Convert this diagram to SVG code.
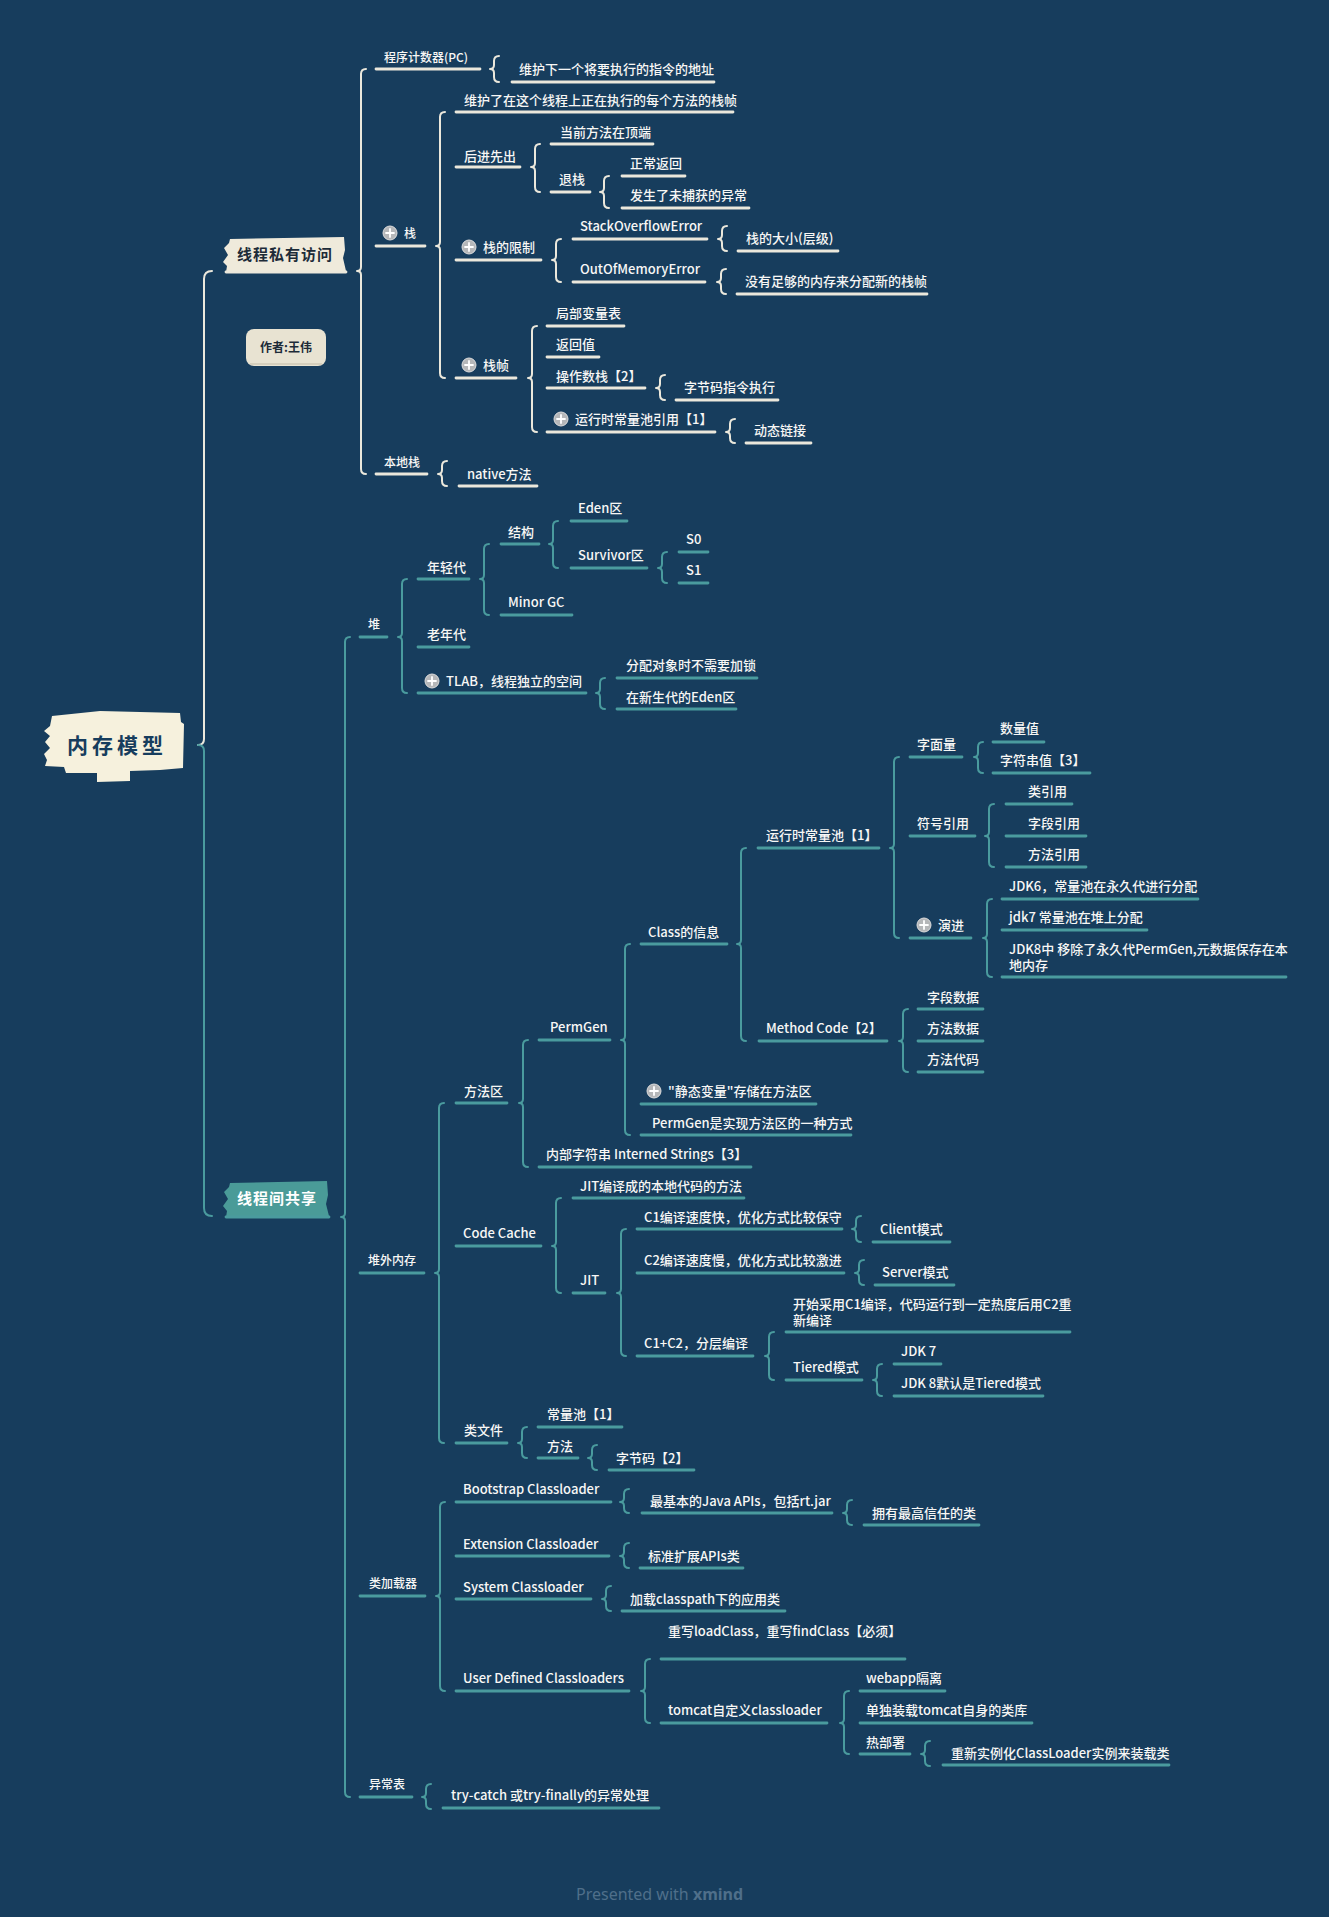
<svg xmlns="http://www.w3.org/2000/svg" xmlns:xlink="http://www.w3.org/1999/xlink" width="1329" height="1917" viewBox="0 0 1329 1917">
<style>
.t{font-family:"Noto Sans CJK SC","Noto Sans",sans-serif;font-size:13px;font-weight:500;fill:#f7f7f5}
.s{font-size:12px}
.uw{stroke:#ebe8dc;stroke-width:2.8;stroke-linecap:round;fill:none}
.ut{stroke:#4a9b9e;stroke-width:2.8;stroke-linecap:round;fill:none}
.bw{stroke:#ebe8dc;stroke-width:2;fill:none;stroke-linecap:round;stroke-linejoin:round}
.bt{stroke:#4a9b9e;stroke-width:2;fill:none;stroke-linecap:round;stroke-linejoin:round}
.big{font-family:"Noto Sans CJK SC","Noto Sans",sans-serif;font-weight:bold}
</style>
<defs>
<g id="plus"><circle r="7" fill="#b5b7b9" stroke="#dcdcdc" stroke-width="1"/><path d="M-4 0H4M0 -4V4" stroke="#fff" stroke-width="1.8" stroke-linecap="round"/></g>
</defs>
<rect width="1329" height="1917" fill="#173d5d"/>

<g id="connectors">
<path class="bw" d="M212 271Q204 271 204 279V739Q204 745 198 745"/>
<path class="bt" d="M198 745Q204 745 204 751V1208Q204 1216 212 1216"/>
<path class="bw" d="M366 69Q361 69 361 74V267Q361 271 357 271Q361 271 361 275V469Q361 474 366 474"/>
<path class="bw" d="M499 56Q494 56 494 61V65Q494 69 490 69Q494 69 494 73V77Q494 82 499 82"/>
<path class="bw" d="M445 112Q440 112 440 117V242Q440 246 436 246Q440 246 440 250V373Q440 378 445 378"/>
<path class="bw" d="M540 144Q535 144 535 149V163Q535 167 531 167Q535 167 535 171V187Q535 192 540 192"/>
<path class="bw" d="M609 176Q604 176 604 181V188Q604 192 600 192Q604 192 604 196V203Q604 208 609 208"/>
<path class="bw" d="M561 239Q556 239 556 244V256Q556 260 552 260Q556 260 556 264V277Q556 282 561 282"/>
<path class="bw" d="M727 226Q722 226 722 231V235Q722 239 718 239Q722 239 722 243V246Q722 251 727 251"/>
<path class="bw" d="M726 269Q721 269 721 274V278Q721 282 717 282Q721 282 721 286V289Q721 294 726 294"/>
<path class="bw" d="M537 326Q532 326 532 331V374Q532 378 528 378Q532 378 532 382V427Q532 432 537 432"/>
<path class="bw" d="M665 375Q660 375 660 380V384Q660 388 656 388Q660 388 660 392V395Q660 400 665 400"/>
<path class="bw" d="M735 419Q730 419 730 424V428Q730 432 726 432Q730 432 730 436V438Q730 443 735 443"/>
<path class="bw" d="M447 461Q442 461 442 466V470Q442 474 438 474Q442 474 442 478V481Q442 486 447 486"/>

<path class="bt" d="M350 637Q345 637 345 642V1213Q345 1217 341 1217Q345 1217 345 1221V1792Q345 1797 350 1797"/>
<path class="bt" d="M407 579Q402 579 402 584V633Q402 637 398 637Q402 637 402 641V688Q402 693 407 693"/>
<path class="bt" d="M489 544Q484 544 484 549V575Q484 579 480 579Q484 579 484 583V610Q484 615 489 615"/>
<path class="bt" d="M558 521Q553 521 553 526V540Q553 544 549 544Q553 544 553 548V563Q553 568 558 568"/>
<path class="bt" d="M667 552Q662 552 662 557V564Q662 568 658 568Q662 568 662 572V578Q662 583 667 583"/>
<path class="bt" d="M605 678Q600 678 600 683V689Q600 693 596 693Q600 693 600 697V704Q600 709 605 709"/>
<path class="bt" d="M444 1103Q439 1103 439 1108V1269Q439 1273 435 1273Q439 1273 439 1277V1438Q439 1443 444 1443"/>
<path class="bt" d="M528 1040Q523 1040 523 1045V1099Q523 1103 519 1103Q523 1103 523 1107V1162Q523 1167 528 1167"/>
<path class="bt" d="M630 944Q625 944 625 949V1036Q625 1040 621 1040Q625 1040 625 1044V1130Q625 1135 630 1135"/>
<path class="bt" d="M746 848Q741 848 741 853V940Q741 944 737 944Q741 944 741 948V1036Q741 1041 746 1041"/>
<path class="bt" d="M899 757Q894 757 894 762V844Q894 848 890 848Q894 848 894 852V933Q894 938 899 938"/>
<path class="bt" d="M983 742Q978 742 978 747V753Q978 757 974 757Q978 757 978 761V768Q978 773 983 773"/>
<path class="bt" d="M994 804Q989 804 989 809V832Q989 836 985 836Q989 836 989 840V862Q989 867 994 867"/>
<path class="bt" d="M992 899Q987 899 987 904V934Q987 938 983 938Q987 938 987 942V972Q987 977 992 977"/>
<path class="bt" d="M908 1009Q903 1009 903 1014V1037Q903 1041 899 1041Q903 1041 903 1045V1067Q903 1072 908 1072"/>
<path class="bt" d="M561 1198Q556 1198 556 1203V1242Q556 1246 552 1246Q556 1246 556 1250V1288Q556 1293 561 1293"/>
<path class="bt" d="M626 1229Q621 1229 621 1234V1289Q621 1293 617 1293Q621 1293 621 1297V1351Q621 1356 626 1356"/>
<path class="bt" d="M861 1216Q856 1216 856 1221V1225Q856 1229 852 1229Q856 1229 856 1233V1237Q856 1242 861 1242"/>
<path class="bt" d="M864 1260Q859 1260 859 1265V1269Q859 1273 855 1273Q859 1273 859 1277V1280Q859 1285 864 1285"/>
<path class="bt" d="M774 1332Q769 1332 769 1337V1352Q769 1356 765 1356Q769 1356 769 1360V1375Q769 1380 774 1380"/>
<path class="bt" d="M882 1364Q877 1364 877 1369V1376Q877 1380 873 1380Q877 1380 877 1384V1391Q877 1396 882 1396"/>
<path class="bt" d="M527 1427Q522 1427 522 1432V1439Q522 1443 518 1443Q522 1443 522 1447V1453Q522 1458 527 1458"/>
<path class="bt" d="M597 1445Q592 1445 592 1450V1454Q592 1458 588 1458Q592 1458 592 1462V1465Q592 1470 597 1470"/>
<path class="bt" d="M445 1502Q440 1502 440 1507V1592Q440 1596 436 1596Q440 1596 440 1600V1686Q440 1691 445 1691"/>
<path class="bt" d="M629 1489Q624 1489 624 1494V1498Q624 1502 620 1502Q624 1502 624 1506V1508Q624 1513 629 1513"/>
<path class="bt" d="M852 1500Q847 1500 847 1505V1509Q847 1513 843 1513Q847 1513 847 1517V1520Q847 1525 852 1525"/>
<path class="bt" d="M629 1543Q624 1543 624 1548V1552Q624 1556 620 1556Q624 1556 624 1560V1563Q624 1568 629 1568"/>
<path class="bt" d="M611 1586Q606 1586 606 1591V1595Q606 1599 602 1599Q606 1599 606 1603V1606Q606 1611 611 1611"/>
<path class="bt" d="M650 1659Q645 1659 645 1664V1687Q645 1691 641 1691Q645 1691 645 1695V1718Q645 1723 650 1723"/>
<path class="bt" d="M849 1691Q844 1691 844 1696V1719Q844 1723 840 1723Q844 1723 844 1727V1749Q844 1754 849 1754"/>
<path class="bt" d="M930 1741Q925 1741 925 1746V1750Q925 1754 921 1754Q925 1754 925 1758V1761Q925 1766 930 1766"/>
<path class="bt" d="M431 1784Q426 1784 426 1789V1793Q426 1797 422 1797Q426 1797 426 1801V1804Q426 1809 431 1809"/>
</g>

<g id="root">
<path d="M52 716L100 711L180 713L181 722L184 724L183 768L160 770L130 771L130 781L97 782L97 773L66 773L64 767L45 766L47 760L44 754L50 748L45 742L50 736L44 731L50 726Z" fill="#f6f1dd"/>
<text class="big" x="117" y="753" text-anchor="middle" font-size="21" letter-spacing="4" fill="#173d5d">内存模型</text>
</g>

<g id="private">
<path d="M230 239L344 237L345 250L343 258L346 271L226 272L227 266L223 262L228 255L224 248L229 243Z" fill="#efeadb"/>
<path class="uw" d="M226 272H346"/>
<text class="big" x="285" y="260" text-anchor="middle" font-size="15" letter-spacing="1" fill="#1d2b38">线程私有访问</text>
</g>

<g id="author">
<rect x="246" y="329" width="80" height="37" rx="8" fill="#e8e3d2"/>
<path d="M250 364H322" stroke="#cfc9b6" stroke-width="1.5"/>
<text class="big" x="286" y="352" text-anchor="middle" font-size="12" fill="#1d2b38">作者:王伟</text>
</g>

<g id="shared">
<path d="M230 1183L327 1181L328 1195L326 1204L329 1216L226 1217L227 1211L223 1206L228 1199L224 1192L229 1187Z" fill="#4a9b98"/>
<path class="ut" d="M226 1217H329"/>
<text class="big" x="277" y="1204" text-anchor="middle" font-size="15" letter-spacing="1" fill="#ffffff">线程间共享</text>
</g>

<g id="n-pc"><text class="t s" x="384" y="61.5">程序计数器(PC)</text><path class="uw" d="M376 69H480"/></g>
<g id="n-pc-1"><text class="t" x="519" y="73.5">维护下一个将要执行的指令的地址</text><path class="uw" d="M512 82H714"/></g>
<g id="n-stack"><use href="#plus" x="390" y="233"/><text class="t s" x="404" y="237.5">栈</text><path class="uw" d="M376 246H425"/></g>
<g id="n-stack-1"><text class="t" x="464" y="104.5">维护了在这个线程上正在执行的每个方法的栈帧</text><path class="uw" d="M456 112H733"/></g>
<g id="n-lifo"><text class="t" x="464" y="160.5">后进先出</text><path class="uw" d="M456 167H520"/></g>
<g id="n-top"><text class="t" x="560" y="136.5">当前方法在顶端</text><path class="uw" d="M551 144H653"/></g>
<g id="n-pop"><text class="t" x="559" y="183.5">退栈</text><path class="uw" d="M551 192H590"/></g>
<g id="n-ret"><text class="t" x="630" y="167.5">正常返回</text><path class="uw" d="M622 176H685"/></g>
<g id="n-exc"><text class="t" x="630" y="199.5">发生了未捕获的异常</text><path class="uw" d="M622 208H749"/></g>
<g id="n-limit"><use href="#plus" x="469" y="247"/><text class="t" x="483" y="251.5">栈的限制</text><path class="uw" d="M456 260H541"/></g>
<g id="n-soe"><text class="t" x="580" y="230.5">StackOverflowError</text><path class="uw" d="M573 239H707"/></g>
<g id="n-soe-1"><text class="t" x="746" y="242.5">栈的大小(层级)</text><path class="uw" d="M738 251H838"/></g>
<g id="n-oom"><text class="t" x="580" y="273.5">OutOfMemoryError</text><path class="uw" d="M573 282H705"/></g>
<g id="n-oom-1"><text class="t" x="745" y="285.5">没有足够的内存来分配新的栈帧</text><path class="uw" d="M737 294H927"/></g>
<g id="n-frame"><use href="#plus" x="469" y="365"/><text class="t" x="483" y="369.5">栈帧</text><path class="uw" d="M456 378H516"/></g>
<g id="n-local"><text class="t" x="556" y="317.5">局部变量表</text><path class="uw" d="M547 326H624"/></g>
<g id="n-retval"><text class="t" x="556" y="348.5">返回值</text><path class="uw" d="M547 357H599"/></g>
<g id="n-opstack"><text class="t" x="556" y="380.5">操作数栈【2】</text><path class="uw" d="M547 388H645"/></g>
<g id="n-bytecode-exec"><text class="t" x="684" y="391.5">字节码指令执行</text><path class="uw" d="M676 400H778"/></g>
<g id="n-rcpref"><use href="#plus" x="561" y="419"/><text class="t" x="575" y="423.5">运行时常量池引用【1】</text><path class="uw" d="M547 432H715"/></g>
<g id="n-dynlink"><text class="t" x="754" y="434.5">动态链接</text><path class="uw" d="M746 443H811"/></g>
<g id="n-native"><text class="t s" x="384" y="466.5">本地栈</text><path class="uw" d="M376 474H427"/></g>
<g id="n-native-1"><text class="t" x="467" y="478.5">native方法</text><path class="uw" d="M459 486H537"/></g>

<g id="m-heap"><text class="t s" x="368" y="628.5">堆</text><path class="ut" d="M360 637H387"/></g>
<g id="m-young"><text class="t" x="427" y="571.5">年轻代</text><path class="ut" d="M418 579H469"/></g>
<g id="m-struct"><text class="t" x="508" y="536.5">结构</text><path class="ut" d="M501 544H539"/></g>
<g id="m-eden"><text class="t" x="578" y="512.5">Eden区</text><path class="ut" d="M571 521H627"/></g>
<g id="m-surv"><text class="t" x="578" y="559.5">Survivor区</text><path class="ut" d="M571 568H647"/></g>
<g id="m-s0"><text class="t" x="686" y="543.5">S0</text><path class="ut" d="M679 552H708"/></g>
<g id="m-s1"><text class="t" x="686" y="574.5">S1</text><path class="ut" d="M679 583H708"/></g>
<g id="m-minor"><text class="t" x="508" y="606.5">Minor GC</text><path class="ut" d="M501 615H572"/></g>
<g id="m-old"><text class="t" x="427" y="638.5">老年代</text><path class="ut" d="M418 647H469"/></g>
<g id="m-tlab"><use href="#plus" x="432" y="681"/><text class="t" x="446" y="685.5">TLAB，线程独立的空间</text><path class="ut" d="M418 693H586"/></g>
<g id="m-tlab-1"><text class="t" x="626" y="669.5">分配对象时不需要加锁</text><path class="ut" d="M617 678H757"/></g>
<g id="m-tlab-2"><text class="t" x="626" y="701.5">在新生代的Eden区</text><path class="ut" d="M617 709H736"/></g>
<g id="m-offheap"><text class="t s" x="368" y="1264.5">堆外内存</text><path class="ut" d="M360 1273H424"/></g>
<g id="m-method-area"><text class="t" x="464" y="1095.5">方法区</text><path class="ut" d="M456 1103H507"/></g>
<g id="m-permgen"><text class="t" x="550" y="1031.5">PermGen</text><path class="ut" d="M539 1040H610"/></g>
<g id="m-classinfo"><text class="t" x="648" y="936.5">Class的信息</text><path class="ut" d="M641 944H727"/></g>
<g id="m-rcp"><text class="t" x="766" y="839.5">运行时常量池【1】</text><path class="ut" d="M758 848H879"/></g>
<g id="m-literal"><text class="t" x="917" y="748.5">字面量</text><path class="ut" d="M910 757H962"/></g>
<g id="m-num"><text class="t" x="1000" y="732.5">数量值</text><path class="ut" d="M993 742H1044"/></g>
<g id="m-str"><text class="t" x="1000" y="764.5">字符串值【3】</text><path class="ut" d="M993 773H1090"/></g>
<g id="m-symref"><text class="t" x="917" y="827.5">符号引用</text><path class="ut" d="M910 836H975"/></g>
<g id="m-classref"><text class="t" x="1028" y="795.5">类引用</text><path class="ut" d="M1006 804H1072"/></g>
<g id="m-fieldref"><text class="t" x="1028" y="827.5">字段引用</text><path class="ut" d="M1006 836H1086"/></g>
<g id="m-methodref"><text class="t" x="1028" y="858.5">方法引用</text><path class="ut" d="M1006 867H1086"/></g>
<g id="m-evo"><use href="#plus" x="924" y="925"/><text class="t" x="938" y="929.5">演进</text><path class="ut" d="M910 938H971"/></g>
<g id="m-jdk6"><text class="t" x="1009" y="890.5">JDK6，常量池在永久代进行分配</text><path class="ut" d="M1002 899H1198"/></g>
<g id="m-jdk7"><text class="t" x="1009" y="921.5">jdk7 常量池在堆上分配</text><path class="ut" d="M1002 930H1147"/></g>
<g id="m-jdk8"><text class="t" x="1009" y="953.5">JDK8中 移除了永久代PermGen,元数据保存在本</text><text class="t" x="1009" y="970">地内存</text><path class="ut" d="M1002 977H1286"/></g>
<g id="m-methodcode"><text class="t" x="766" y="1032.5">Method Code【2】</text><path class="ut" d="M759 1041H887"/></g>
<g id="m-fielddata"><text class="t" x="927" y="1001.5">字段数据</text><path class="ut" d="M918 1009H983"/></g>
<g id="m-methoddata"><text class="t" x="927" y="1032.5">方法数据</text><path class="ut" d="M918 1041H983"/></g>
<g id="m-methodcodes"><text class="t" x="927" y="1063.5">方法代码</text><path class="ut" d="M918 1072H983"/></g>
<g id="m-static"><use href="#plus" x="654" y="1091"/><text class="t" x="668" y="1095.5">"静态变量"存储在方法区</text><path class="ut" d="M641 1104H816"/></g>
<g id="m-permgen-impl"><text class="t" x="652" y="1127.5">PermGen是实现方法区的一种方式</text><path class="ut" d="M641 1135H851"/></g>
<g id="m-interned"><text class="t" x="546" y="1158.5">内部字符串 Interned Strings【3】</text><path class="ut" d="M539 1167H751"/></g>
<g id="m-codecache"><text class="t" x="463" y="1237.5">Code Cache</text><path class="ut" d="M456 1246H541"/></g>
<g id="m-jitnative"><text class="t" x="580" y="1190.5">JIT编译成的本地代码的方法</text><path class="ut" d="M573 1198H744"/></g>
<g id="m-jit"><text class="t" x="580" y="1284.5">JIT</text><path class="ut" d="M573 1293H605"/></g>
<g id="m-c1"><text class="t" x="644" y="1221.5">C1编译速度快，优化方式比较保守</text><path class="ut" d="M637 1229H842"/></g>
<g id="m-client"><text class="t" x="880" y="1233.5">Client模式</text><path class="ut" d="M873 1242H950"/></g>
<g id="m-c2"><text class="t" x="644" y="1264.5">C2编译速度慢，优化方式比较激进</text><path class="ut" d="M637 1273H844"/></g>
<g id="m-server"><text class="t" x="882" y="1276.5">Server模式</text><path class="ut" d="M875 1285H954"/></g>
<g id="m-c1c2"><text class="t" x="644" y="1347.5">C1+C2，分层编译</text><path class="ut" d="M637 1356H753"/></g>
<g id="m-c1c2-1"><text class="t" x="793" y="1308.5">开始采用C1编译，代码运行到一定热度后用C2重</text><text class="t" x="793" y="1324.5">新编译</text><path class="ut" d="M786 1332H1070"/></g>
<g id="m-tiered"><text class="t" x="793" y="1371.5">Tiered模式</text><path class="ut" d="M786 1380H862"/></g>
<g id="m-jdk7b"><text class="t" x="901" y="1355.5">JDK 7</text><path class="ut" d="M894 1364H941"/></g>
<g id="m-jdk8b"><text class="t" x="901" y="1387.5">JDK 8默认是Tiered模式</text><path class="ut" d="M894 1396H1043"/></g>
<g id="m-classfile"><text class="t" x="464" y="1434.5">类文件</text><path class="ut" d="M456 1443H507"/></g>
<g id="m-cp"><text class="t" x="547" y="1418.5">常量池【1】</text><path class="ut" d="M538 1427H622"/></g>
<g id="m-method"><text class="t" x="547" y="1450.5">方法</text><path class="ut" d="M538 1458H578"/></g>
<g id="m-bytecode"><text class="t" x="616" y="1462.5">字节码【2】</text><path class="ut" d="M609 1470H694"/></g>
<g id="m-loader"><text class="t s" x="369" y="1587.5">类加载器</text><path class="ut" d="M360 1596H425"/></g>
<g id="m-boot"><text class="t" x="463" y="1493.5">Bootstrap Classloader</text><path class="ut" d="M456 1502H611"/></g>
<g id="m-boot-1"><text class="t" x="650" y="1505.5">最基本的Java APIs，包括rt.jar</text><path class="ut" d="M642 1513H832"/></g>
<g id="m-boot-2"><text class="t" x="872" y="1517.5">拥有最高信任的类</text><path class="ut" d="M864 1525H979"/></g>
<g id="m-ext"><text class="t" x="463" y="1548.5">Extension Classloader</text><path class="ut" d="M456 1556H609"/></g>
<g id="m-ext-1"><text class="t" x="648" y="1560.5">标准扩展APIs类</text><path class="ut" d="M640 1568H743"/></g>
<g id="m-sys"><text class="t" x="463" y="1591.5">System Classloader</text><path class="ut" d="M456 1599H591"/></g>
<g id="m-sys-1"><text class="t" x="630" y="1603.5">加载classpath下的应用类</text><path class="ut" d="M622 1611H785"/></g>
<g id="m-user"><text class="t" x="463" y="1682.5">User Defined Classloaders</text><path class="ut" d="M456 1691H629"/></g>
<g id="m-user-1"><text class="t" x="668" y="1635.5">重写loadClass，重写findClass【必须】</text><path class="ut" d="M661 1659H905"/></g>
<g id="m-tomcat"><text class="t" x="668" y="1714.5">tomcat自定义classloader</text><path class="ut" d="M661 1723H827"/></g>
<g id="m-webapp"><text class="t" x="866" y="1682.5">webapp隔离</text><path class="ut" d="M860 1691H945"/></g>
<g id="m-tomcatlib"><text class="t" x="866" y="1714.5">单独装载tomcat自身的类库</text><path class="ut" d="M860 1723H1032"/></g>
<g id="m-hot"><text class="t" x="866" y="1746.5">热部署</text><path class="ut" d="M860 1754H910"/></g>
<g id="m-hot-1"><text class="t" x="951" y="1757.5">重新实例化ClassLoader实例来装载类</text><path class="ut" d="M943 1765H1169"/></g>
<g id="m-exctable"><text class="t s" x="369" y="1788.5">异常表</text><path class="ut" d="M360 1797H412"/></g>
<g id="m-exctable-1"><text class="t" x="451" y="1799.5">try-catch 或try-finally的异常处理</text><path class="ut" d="M443 1808H659"/></g>

<text x="576" y="1900" font-family="'Noto Sans',sans-serif" font-size="16" fill="#4f6f8a">Presented with <tspan font-weight="bold">xmind</tspan></text>
</svg>
